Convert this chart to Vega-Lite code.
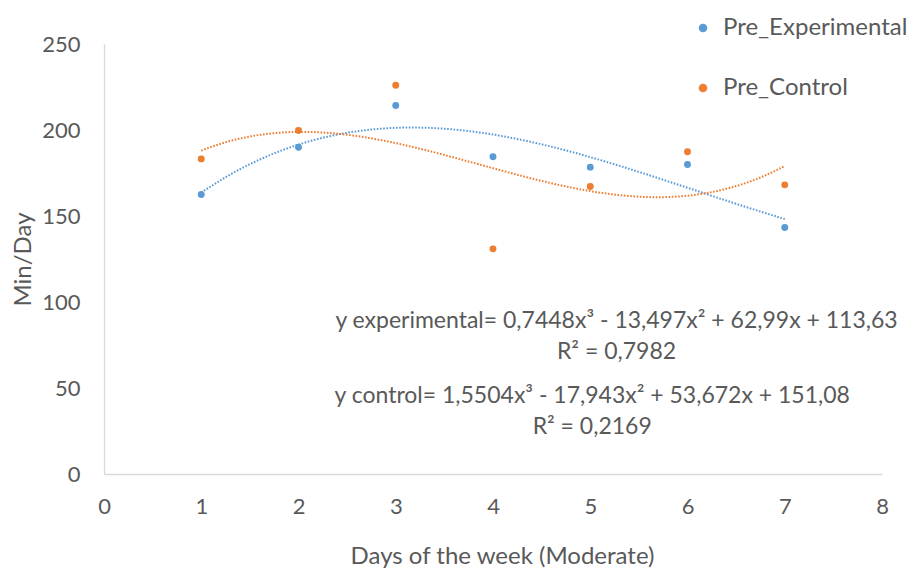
{
  "$schema": "https://vega.github.io/schema/vega-lite/v6.json",
  "width": 778,
  "height": 430,
  "autosize": {"type": "none"},
  "padding": {"left": 104, "top": 44, "right": 28, "bottom": 94},
  "background": "white",
  "config": {
    "view": {"stroke": null},
    "font": "Lato",
    "axis": {
      "grid": false,
      "ticks": false,
      "labelFlush": false,
      "domainColor": "#d9d9d9",
      "domainWidth": 1.3,
      "labelColor": "#595959",
      "labelFont": "Lato",
      "labelFontSize": 22,
      "titleColor": "#595959",
      "titleFont": "Lato",
      "titleFontSize": 24,
      "titleFontWeight": "normal"
    },
    "legend": {
      "labelColor": "#595959",
      "labelFont": "Lato",
      "labelFontSize": 24,
      "labelLimit": 0
    }
  },
  "datasets": {
    "pts": [
      {"day": 1, "value": 162.5, "series": "Pre_Experimental"},
      {"day": 2, "value": 190.0, "series": "Pre_Experimental"},
      {"day": 3, "value": 214.2, "series": "Pre_Experimental"},
      {"day": 4, "value": 184.4, "series": "Pre_Experimental"},
      {"day": 5, "value": 178.4, "series": "Pre_Experimental"},
      {"day": 6, "value": 179.9, "series": "Pre_Experimental"},
      {"day": 7, "value": 143.3, "series": "Pre_Experimental"},
      {"day": 1, "value": 183.2, "series": "Pre_Control"},
      {"day": 2, "value": 199.7, "series": "Pre_Control"},
      {"day": 3, "value": 226.0, "series": "Pre_Control"},
      {"day": 4, "value": 130.9, "series": "Pre_Control"},
      {"day": 5, "value": 167.1, "series": "Pre_Control"},
      {"day": 6, "value": 187.4, "series": "Pre_Control"},
      {"day": 7, "value": 168.1, "series": "Pre_Control"}
    ],
    "notes": [
      {"nx": 5.27, "ny": 89.1, "label": "y experimental= 0,7448x³ - 13,497x² + 62,99x + 113,63"},
      {"nx": 5.27, "ny": 71.2, "label": "R² = 0,7982"},
      {"nx": 5.02, "ny": 45.5, "label": "y control= 1,5504x³ - 17,943x² + 53,672x + 151,08"},
      {"nx": 5.02, "ny": 27.2, "label": "R² = 0,2169"}
    ]
  },
  "layer": [
    {
      "data": {"name": "pts"},
      "mark": {"type": "point", "filled": true, "opacity": 1, "size": 48},
      "encoding": {
        "x": {
          "field": "day",
          "type": "quantitative",
          "scale": {"domain": [0, 8], "nice": false},
          "axis": {"values": [0, 1, 2, 3, 4, 5, 6, 7, 8], "format": "d", "labelPadding": 22, "title": "Days of the week (Moderate)", "titlePadding": 27, "titleX": 398, "titleAlign": "center", "titleAnchor": "start"}
        },
        "y": {
          "field": "value",
          "type": "quantitative",
          "scale": {"domain": [0, 250], "nice": false},
          "axis": {"values": [0, 50, 100, 150, 200, 250], "labelPadding": 24, "title": "Min/Day", "titlePadding": 6}
        },
        "color": {
          "field": "series",
          "type": "nominal",
          "scale": {"domain": ["Pre_Experimental", "Pre_Control"], "range": ["#5B9BD5", "#ED7D31"]},
          "legend": {
            "title": null,
            "orient": "none",
            "legendX": 587,
            "legendY": -28,
            "symbolType": "circle",
            "symbolSize": 50,
            "rowPadding": 36,
            "labelOffset": 8
          }
        }
      }
    },
    {
      "data": {"name": "pts"},
      "transform": [
        {"regression": "value", "on": "day", "groupby": ["series"], "method": "poly", "order": 3, "extent": [1, 7]}
      ],
      "mark": {"type": "line", "strokeWidth": 2, "strokeDash": [1.6, 1.6], "strokeCap": "butt"},
      "encoding": {
        "x": {"field": "day", "type": "quantitative"},
        "y": {"field": "value", "type": "quantitative"},
        "color": {
          "field": "series",
          "type": "nominal",
          "legend": null
        }
      }
    },
    {
      "data": {"name": "notes"},
      "mark": {"type": "text", "font": "Lato", "fontSize": 23, "color": "#595959", "align": "center", "baseline": "middle"},
      "encoding": {
        "x": {"field": "nx", "type": "quantitative"},
        "y": {"field": "ny", "type": "quantitative"},
        "text": {"field": "label"}
      }
    }
  ]
}
